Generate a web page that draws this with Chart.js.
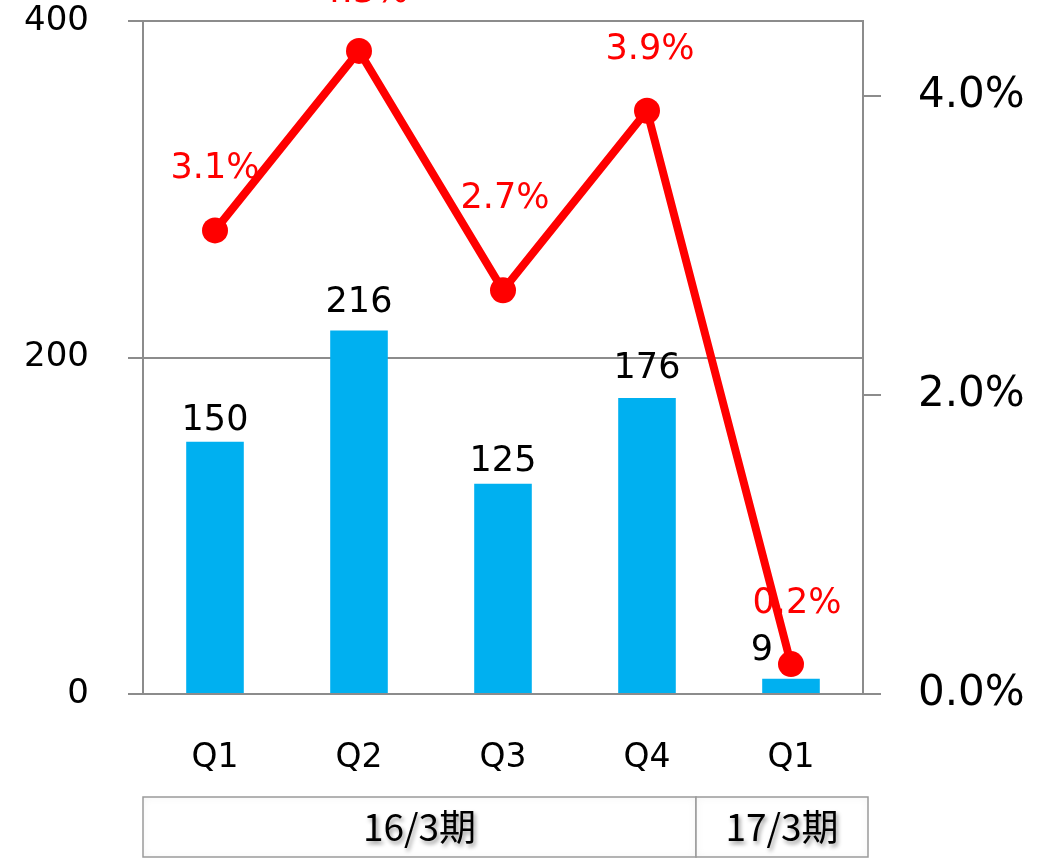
<!DOCTYPE html>
<html>
<head>
<meta charset="utf-8">
<script src="https://cdn.jsdelivr.net/npm/chart.js@4"></script>
<style>
html,body{margin:0;padding:0;background:#fff;}
canvas{display:block;}
</style>
</head>
<body>
<canvas id="c" width="1037" height="858"></canvas>
<script>
// ---- data ----
const categories = ['Q1', 'Q2', 'Q3', 'Q4', 'Q1'];
const profitValues = [150, 216, 125, 176, 9];
const marginValues = [3.1, 4.3, 2.7, 3.9, 0.2];
const leftTicks = [0, 200, 400];
const rightTicks = [0, 2, 4];
const groupLabels = ['16/3期', '17/3期'];
const groupSpans = [[0, 3], [4, 4]];

// ---- label placement (style) ----
const lineLabelLift = [61, 58, 91, 61, 60];
const lineLabelShift = [0, 5, 2, 3, 6];
const barLabelGap = [12, 19, 13, 20, 19];
const barLabelShift = [0, 0, 0, 0, -29];

const GRID = '#8c8c8c';
const BLUE = '#00B0F0';
const RED = '#FF0000';
const NUM_FONT = '"DejaVu Sans", Verdana, sans-serif';

const labelsPlugin = {
  id: 'labels',
  afterDatasetsDraw(chart) {
    const ctx = chart.ctx;
    ctx.save();
    const barMeta = chart.getDatasetMeta(1);
    ctx.font = '35px ' + NUM_FONT;
    ctx.fillStyle = '#000';
    ctx.textAlign = 'center';
    ctx.textBaseline = 'alphabetic';
    barMeta.data.forEach((el, i) => {
      ctx.fillText(String(profitValues[i]), el.x + barLabelShift[i], el.y - barLabelGap[i]);
    });
    const lineMeta = chart.getDatasetMeta(0);
    ctx.font = '35px ' + NUM_FONT;
    ctx.fillStyle = RED;
    ctx.textBaseline = 'middle';
    lineMeta.data.forEach((el, i) => {
      ctx.fillText(marginValues[i].toFixed(1) + '%', el.x + lineLabelShift[i], el.y - lineLabelLift[i]);
    });
    ctx.restore();
  },
  afterDraw(chart) {
    const ctx = chart.ctx;
    const xs = chart.scales.x;
    const area = chart.chartArea;
    const top = 797, bottom = 857;
    const split = xs.getPixelForValue(3) + 49;
    const edges = [[area.left, split], [split, area.right + 5]];
    ctx.save();
    groupSpans.forEach((span, gi) => {
      const [x0, x1] = edges[gi];
      ctx.save();
      ctx.beginPath();
      ctx.rect(x0, top, x1 - x0, bottom - top);
      ctx.fillStyle = '#fff';
      ctx.fill();
      ctx.clip();
      ctx.shadowColor = 'rgba(0,0,0,0.25)';
      ctx.shadowBlur = 8;
      ctx.strokeStyle = 'rgba(0,0,0,0.25)';
      ctx.lineWidth = 4;
      ctx.strokeRect(x0 - 2, top - 2, x1 - x0 + 4, bottom - top + 4);
      ctx.restore();
      ctx.strokeStyle = '#9a9a9a';
      ctx.lineWidth = 1.5;
      ctx.strokeRect(x0, top, x1 - x0, bottom - top);
      ctx.save();
      ctx.font = '37px "Liberation Sans Narrow", "Noto Sans CJK JP", sans-serif';
      ctx.fillStyle = '#000';
      ctx.textAlign = 'center';
      ctx.textBaseline = 'middle';
      ctx.shadowColor = 'rgba(0,0,0,0.4)';
      ctx.shadowOffsetX = 2;
      ctx.shadowOffsetY = 3;
      ctx.shadowBlur = 4;
      ctx.fillText(groupLabels[gi], (x0 + x1) / 2, (top + bottom) / 2);
      ctx.restore();
    });
    ctx.restore();
  }
};

function fixVertical(width) {
  return function (s) {
    s.width = width;
    s.paddingTop = 0;
    s.paddingBottom = 0;
  };
}

new Chart(document.getElementById('c'), {
  data: {
    labels: categories,
    datasets: [
      {
        type: 'line',
        label: 'margin',
        data: marginValues,
        yAxisID: 'y2',
        borderColor: RED,
        backgroundColor: RED,
        borderWidth: 8,
        pointRadius: 13,
        pointHoverRadius: 13,
        pointBorderWidth: 0,
        pointBackgroundColor: RED,
        tension: 0,
        order: 0,
        clip: false
      },
      {
        type: 'bar',
        label: 'profit',
        data: profitValues,
        yAxisID: 'y',
        backgroundColor: BLUE,
        barPercentage: 0.4,
        categoryPercentage: 1.0,
        order: 1
      }
    ]
  },
  options: {
    responsive: false,
    animation: false,
    devicePixelRatio: 1,
    layout: { autoPadding: false, padding: { top: 21, left: 0, right: 0, bottom: 0 } },
    plugins: { legend: { display: false }, tooltip: { enabled: false } },
    scales: {
      x: {
        grid: { display: false },
        border: { display: false },
        ticks: { font: { size: 33, family: NUM_FONT }, color: '#000', padding: 37 },
        afterFit(s) { s.height = 164; s.paddingLeft = 0; s.paddingRight = 0; }
      },
      y: {
        position: 'left',
        min: 0, max: 400,
        afterBuildTicks(s) { s.ticks = leftTicks.map(v => ({ value: v })); },
        grid: { color: GRID, lineWidth: 2, tickLength: 15, drawTicks: true },
        border: { display: true, color: GRID, width: 2 },
        ticks: { font: { size: 34, family: NUM_FONT }, color: '#000', padding: 39 },
        afterFit: fixVertical(143)
      },
      y2: {
        position: 'right',
        min: 0, max: 4.5,
        afterBuildTicks(s) { s.ticks = rightTicks.map(v => ({ value: v })); },
        grid: { drawOnChartArea: false, color: GRID, lineWidth: 2, tickLength: 18 },
        border: { display: true, color: GRID, width: 2 },
        ticks: {
          font: { size: 42, family: NUM_FONT }, color: '#000', padding: 37,
          callback: v => Number(v).toFixed(1) + '%'
        },
        afterFit: fixVertical(174)
      }
    }
  },
  plugins: [labelsPlugin]
});
</script>
</body>
</html>
